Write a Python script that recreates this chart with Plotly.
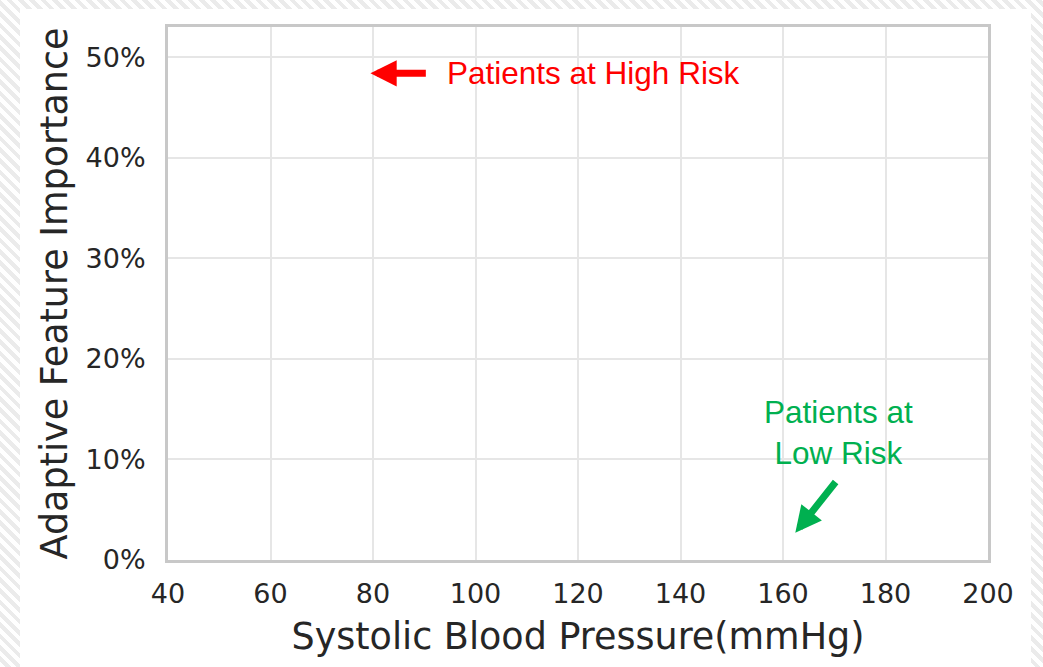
import plotly.graph_objects as go

# axis values
x_ticks = [40, 60, 80, 100, 120, 140, 160, 180, 200]
y_ticks = [0, 0.1, 0.2, 0.3, 0.4, 0.5]
y_tick_labels = ["0%", "10%", "20%", "30%", "40%", "50%"]
x_range = [40, 200]
y_range = [0, 0.53]

# annotation data (data coordinates)
high_text = "Patients at High Risk"
high_text_pos = [94.0, 0.484]
high_arrow_head = [79.5, 0.484]
high_arrow_tail = [90.6, 0.484]

low_text = "Patients at<br>Low Risk"
low_text_pos = [170.8, 0.127]
low_arrow_head = [162.4, 0.027]
low_arrow_tail = [170.5, 0.079]

RED = "#ff0000"
GREEN = "#00b050"
TXT = "#262626"

fig = go.Figure()
fig.add_trace(go.Scatter(x=[None], y=[None], mode="markers", showlegend=False, hoverinfo="skip"))

fig.add_annotation(x=high_text_pos[0], y=high_text_pos[1], text=high_text, showarrow=False,
                   xanchor="left", yanchor="middle",
                   font=dict(family="Liberation Sans, Arial", size=31.5, color=RED))
fig.add_annotation(x=high_arrow_head[0], y=high_arrow_head[1], ax=high_arrow_tail[0], ay=high_arrow_tail[1],
                   axref="x", ayref="y", text="", showarrow=True, arrowhead=2, arrowsize=0.75,
                   arrowwidth=7, arrowcolor=RED, standoff=0)

fig.add_annotation(x=low_text_pos[0], y=low_text_pos[1], text=low_text, showarrow=False,
                   xanchor="center", yanchor="middle", align="center",
                   font=dict(family="Liberation Sans, Arial", size=31.5, color=GREEN))
fig.add_annotation(x=low_arrow_head[0], y=low_arrow_head[1], ax=low_arrow_tail[0], ay=low_arrow_tail[1],
                   axref="x", ayref="y", text="", showarrow=True, arrowhead=2, arrowsize=0.75,
                   arrowwidth=7, arrowcolor=GREEN, standoff=0)

axis_common = dict(showline=True, linecolor="#c8c8c8", linewidth=3, mirror=True,
                   showgrid=True, gridcolor="#e6e6e6", gridwidth=2, zeroline=False,
                   ticks="", tickfont=dict(family="DejaVu Sans", size=27, color=TXT))

fig.update_xaxes(range=x_range, tickvals=x_ticks, ticktext=[str(v) for v in x_ticks],
                 title=dict(text="Systolic Blood Pressure(mmHg)", standoff=16,
                            font=dict(family="DejaVu Sans", size=36.5, color=TXT)),
                 ticklabelstandoff=8, **axis_common)
fig.update_yaxes(range=y_range, tickvals=y_ticks, ticktext=y_tick_labels,
                 title=dict(text="Adaptive Feature Importance", standoff=7,
                            font=dict(family="DejaVu Sans", size=36.5, color=TXT)),
                 ticklabelstandoff=14, **axis_common)

fig.update_layout(width=1011, height=658,
                  margin=dict(l=148, r=43, t=18, b=107),
                  paper_bgcolor="white", plot_bgcolor="white", showlegend=False)

post = """
document.documentElement.style.overflow='hidden';
document.body.style.margin='9px 12px 0 20px';
document.body.style.overflow='hidden';
document.body.style.background='repeating-linear-gradient(45deg, #ffffff 0px, #ffffff 4px, #ebebeb 4px, #ebebeb 8px)';
document.documentElement.style.background='repeating-linear-gradient(45deg, #ffffff 0px, #ffffff 4px, #ebebeb 4px, #ebebeb 8px)';
"""

fig.write_html("out.html", post_script=post)
